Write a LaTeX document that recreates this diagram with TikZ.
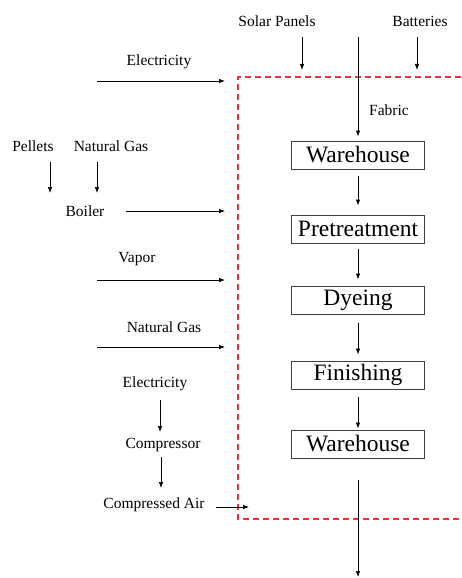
\documentclass[tikz,border=0pt]{standalone}
\usepackage{fontspec}
\setmainfont{Liberation Serif}
\newfontfamily\diagfont{Liberation Serif}
\usetikzlibrary{positioning,arrows.meta}
\definecolor{BoundRed}{HTML}{E8333C}
\definecolor{BoxGray}{HTML}{404040}

\begin{document}
\begin{tikzpicture}[x=1pt, y=-1pt, every node/.style={font=\diagfont\fontsize{15.5}{18}\selectfont, inner sep=1pt},
  flow/.style={-{Latex[length=6pt,width=4.5pt]}, line width=0.7pt},
  stagebox/.style={draw=BoxGray, line width=1pt, minimum width=133pt, minimum height=28pt, inner sep=0pt, font=\diagfont\fontsize{23.5}{27}\selectfont}]
  \useasboundingbox (0,0) rectangle (461,578);

  % system boundary
  \draw[BoundRed, line width=1.4pt, dash pattern=on 6pt off 4pt] (461,77) -- (238,77) -- (238,519) -- (461,519);

  % process chain
  \node[stagebox] (wh1) at (358,155) {Warehouse};
  \node[stagebox] (pre) at (358,229) {Pretreatment};
  \node[stagebox] (dye) at (358,300) {Dyeing};
  \node[stagebox] (fin) at (358,375) {Finishing};
  \node[stagebox] (wh2) at (358,444) {Warehouse};
  \coordinate (fabin) at (358,37);
  \coordinate (out) at (358,577);
  \node (fabric) at (389,110) {Fabric};
  \draw[flow, shorten >=4pt] (fabin) -- (wh1);
  \draw[flow, shorten <=6pt, shorten >=9pt] (wh1) -- (pre);
  \draw[flow, shorten <=5pt, shorten >=6pt] (pre) -- (dye);
  \draw[flow, shorten <=8pt, shorten >=6pt] (dye) -- (fin);
  \draw[flow, shorten <=7pt, shorten >=1pt] (fin) -- (wh2);
  \draw[flow, shorten <=21pt] (wh2) -- (out);

  % renewable supply
  \node (solar) at (277,21) {Solar Panels};
  \node (batt) at (420,21) {Batteries};
  \coordinate (solarin) at (302,70);
  \coordinate (battin) at (417,70);
  \draw[flow] (solarin |- 37,37) -- (solarin);
  \draw[flow] (battin |- 37,37) -- (battin);

  % left side inputs
  \node (elec1) at (159,62) {Electricity};
  \coordinate (elecA) at (97,81);
  \coordinate (elecB) at (225,81);
  \draw[flow] (elecA) -- (elecB);

  \node (pellets) at (33,146) {Pellets};
  \node (gas1) at (111,146) {Natural Gas};
  \node (boiler) at (85,211) {Boiler};
  \coordinate (pelA) at (50,162);
  \coordinate (pelB) at (50,193);
  \coordinate (gasA) at (97,162);
  \coordinate (gasB) at (97,193);
  \draw[flow] (pelA) -- (pelB);
  \draw[flow] (gasA) -- (gasB);
  \coordinate (boilerB) at (225,211);
  \draw[flow, shorten <=20pt] (boiler) -- (boilerB);

  \node (vapor) at (137,259) {Vapor};
  \coordinate (vapA) at (97,280);
  \coordinate (vapB) at (225,280);
  \draw[flow] (vapA) -- (vapB);

  \node (gas2) at (164,327) {Natural Gas};
  \coordinate (ngA) at (97,347);
  \coordinate (ngB) at (225,347);
  \draw[flow] (ngA) -- (ngB);

  \node (elec2) at (155,384) {Electricity};
  \node (comp) at (163,445) {Compressor};
  \node (air) at (154,505) {Compressed Air};
  \coordinate (eA) at (160,400);
  \coordinate (eB) at (160,432);
  \coordinate (cA) at (161,457);
  \coordinate (cB) at (161,488);
  \draw[flow] (eA) -- (eB);
  \draw[flow] (cA) -- (cB);
  \coordinate (airB) at (249,507);
  \draw[flow, shorten <=10pt] (air.east |- airB) -- (airB);
\end{tikzpicture}
\end{document}
